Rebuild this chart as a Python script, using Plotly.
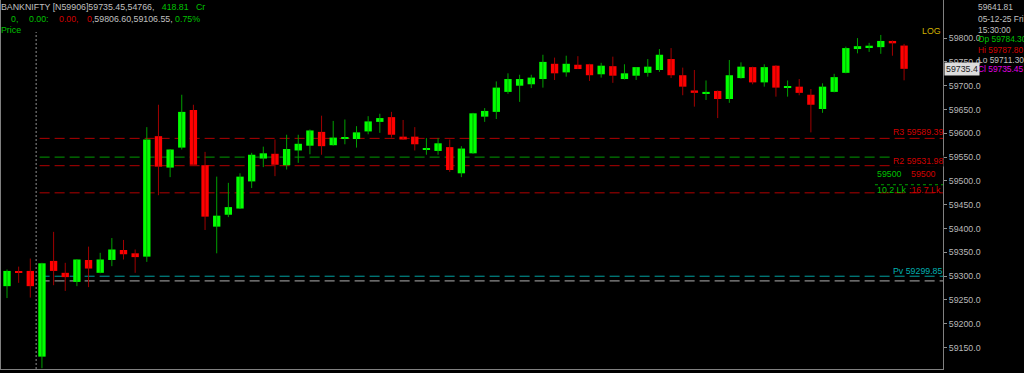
import plotly.graph_objects as go

# ---------------- data (5-min candles, BANKNIFTY) ----------------
idx = list(range(78))
opens = [59279, 59310, 59311, 59131, 59332, 59307, 59288, 59334, 59307, 59334,
         59355, 59348, 59341, 59594, 59528, 59570, 59649, 59533, 59404, 59429,
         59442, 59499, 59547, 59557, 59533, 59564, 59574, 59603, 59575, 59589,
         59588, 59604, 59624, 59634, 59593, 59593, 59565, 59563, 59571, 59516,
         59558, 59635, 59645, 59687, 59700, 59703, 59714, 59746, 59728, 59744,
         59745, 59724, 59741, 59714, 59721, 59727, 59733, 59756, 59722, 59690,
         59683, 59689, 59672, 59716, 59739, 59707, 59742, 59697, 59698, 59681,
         59651, 59687, 59727, 59777, 59780, 59781, 59794, 59784.30]
highs = [59314, 59320, 59337, 59328, 59393, 59328, 59336, 59362, 59349, 59380,
         59376, 59356, 59613, 59660, 59567, 59681, 59660, 59561, 59509, 59496,
         59516, 59559, 59572, 59587, 59597, 59597, 59608, 59637, 59626, 59629,
         59615, 59636, 59641, 59645, 59628, 59613, 59590, 59590, 59587, 59573,
         59643, 59653, 59709, 59726, 59723, 59723, 59765, 59759, 59763, 59762,
         59746, 59748, 59761, 59745, 59739, 59756, 59777, 59779, 59738, 59733,
         59711, 59690, 59754, 59749, 59740, 59745, 59743, 59711, 59714, 59693,
         59705, 59725, 59782, 59800, 59790, 59806.60, 59795, 59787.80]
lows = [59254, 59286, 59255, 59106.55, 59281, 59269, 59279, 59277, 59306, 59321,
        59335, 59307, 59330, 59470, 59508, 59566, 59533, 59397, 59348, 59424,
        59441, 59485, 59529, 59510, 59524, 59538, 59556, 59555, 59574, 59577,
        59570, 59598, 59601, 59591, 59586, 59564, 59555, 59555, 59519, 59508,
        59557, 59624, 59630, 59683, 59666, 59695, 59696, 59712, 59719, 59735,
        59710, 59717, 59706, 59713, 59712, 59719, 59729, 59716, 59680, 59656,
        59670, 59632, 59664, 59715, 59703, 59698, 59677, 59677, 59680, 59602,
        59643, 59686, 59726, 59768, 59771, 59767, 59763, 59711.30]
closes = [59311, 59308, 59279, 59327, 59311, 59298, 59335, 59316, 59335, 59356,
          59346, 59340, 59587, 59530, 59566, 59645, 59534, 59425, 59427, 59445,
          59509, 59555, 59558, 59534, 59567, 59578, 59606, 59573, 59591, 59591,
          59602, 59625, 59632, 59597, 59587, 59577, 59569, 59579, 59523, 59568,
          59642, 59647, 59696, 59714, 59714, 59717, 59750, 59726, 59746, 59735,
          59722, 59742, 59721, 59726, 59739, 59740, 59765, 59722, 59698, 59685,
          59687, 59672, 59722, 59740, 59707, 59739, 59696, 59699, 59685, 59660,
          59698, 59718, 59779, 59783, 59784, 59794, 59789, 59735.45]

# reference levels
r3_level = 59589.39
r2_level = 59531.98
green_level = 59550
red_low_level = 59475
pv_level = 59299.85
grey_level = 59290
oi_level = 59492
last_close = 59735.45

ytick_vals = [59150, 59200, 59250, 59300, 59350, 59400, 59450, 59500,
              59550, 59600, 59650, 59700, 59750, 59800]
ytick_text = [f"{v:.1f}" for v in ytick_vals]

# ---------------- styling ----------------
FW, FH = 1024, 373
ML, MR, MT, MB = 1, 81, 0, 4
PW, PH = FW - ML - MR, FH - MT - MB
FONT = "Liberation Sans"
FS = 8.8
FS_PANEL = 8.4
GREEN_BODY, RED_BODY = "#00ff00", "#ff0000"
GREEN_WICK, RED_WICK = "#00a000", "#a00000"
GREY_TXT = "#c0c0c0"
GREEN_TXT, RED_TXT, MAG_TXT = "#00c000", "#d00000", "#e000e0"
NB = "\u00a0"

def P(px, py):
    return (px - ML) / PW, 1 - (py - MT) / PH

up = [i for i in idx if closes[i] >= opens[i]]
dn = [i for i in idx if closes[i] < opens[i]]

def wick_xy(sel):
    xs, ys = [], []
    for i in sel:
        xs += [i, i, None]
        ys += [lows[i], highs[i], None]
    return xs, ys

fig = go.Figure()
for sel, col in ((up, GREEN_WICK), (dn, RED_WICK)):
    xs, ys = wick_xy(sel)
    fig.add_trace(go.Scatter(x=xs, y=ys, mode="lines", line=dict(color=col, width=1),
                             hoverinfo="skip", showlegend=False))
for sel, col in ((up, GREEN_BODY), (dn, RED_BODY)):
    fig.add_trace(go.Bar(
        x=sel,
        base=[min(opens[i], closes[i]) for i in sel],
        y=[max(abs(closes[i] - opens[i]), 2.2) for i in sel],
        width=0.63, marker=dict(color=col, line=dict(width=0)),
        showlegend=False, hoverinfo="skip"))

XR = [-0.515, 80.34]
shapes = []
def hline(y, color, x0=2.8, dash="10px,5px"):
    shapes.append(dict(type="line", xref="x", yref="y", x0=x0, x1=XR[1], y0=y, y1=y,
                       line=dict(color=color, width=1, dash=dash), layer="below"))
hline(r3_level, "#b00000")
hline(green_level, "#009a00")
hline(r2_level, "#b00000")
hline(red_low_level, "#b00000")
hline(pv_level, "#00a0a0")
hline(grey_level, "#b0b0b0")
hline(oi_level, "#00a000", x0=74.5, dash="dot")
# day separator
shapes.append(dict(type="line", xref="x", yref="paper", x0=2.5, x1=2.5, y0=0, y1=P(0, 32)[1],
                   line=dict(color="#909090", width=1, dash="2px,2px")))

anns = []
def txt(px, py, s, color, anchor="left", bg=None, size=FS, pad=0):
    x, y = P(px, py)
    d = dict(xref="paper", yref="paper", x=x, y=y, text=s, showarrow=False,
             xanchor=anchor, yanchor="middle", font=dict(family=FONT, size=size, color=color),
             borderpad=pad)
    if bg:
        d["bgcolor"] = bg
    anns.append(d)

def span(s, c):
    return f'<span style="color:{c}">{s}</span>'

# header
txt(0, 7.5, "BANKNIFTY [N59906]59735.45,54766," + NB * 3 + span("418.81", GREEN_TXT)
    + NB * 3 + span("Cr", GREEN_TXT), GREY_TXT)
txt(10, 18.5, "0,", GREEN_TXT)
txt(28, 18.5, "0.00:", GREEN_TXT)
txt(58, 18.5, "0.00,", RED_TXT)
txt(86, 18.5, span("0", RED_TXT) + ",59806.60,59106.55, " + span("0.75%", GREEN_TXT), GREY_TXT)
txt(0, 29.5, "Price", GREEN_TXT)

# right info panel
txt(977, 7.5, "59641.81", GREY_TXT, size=FS_PANEL)
txt(977, 18.5, "05-12-25 Fri", GREY_TXT, size=FS_PANEL)
txt(977, 29.5, "15:30:00", GREY_TXT, size=FS_PANEL)
txt(977, 39.5, "Op 59784.30", GREEN_TXT, size=FS_PANEL)
txt(977, 49.5, "Hi 59787.80", RED_TXT, size=FS_PANEL)
txt(977, 59.5, "Lo 59711.30", GREY_TXT, size=FS_PANEL)
txt(977, 69.5, "Cl 59735.45", MAG_TXT, size=FS_PANEL)
txt(944, 69, "59735.4", "#202020", bg="#dcdcdc", pad=1)

# level labels
txt(942, 31, "LOG", "#d0b000", anchor="right")
txt(944, 132, f"R3 {r3_level:.2f}", RED_TXT, anchor="right")
txt(944, 160.5, f"R2 {r2_level:.2f}", RED_TXT, anchor="right", bg="#000000")
txt(876, 174, "59500", GREEN_TXT)
txt(910, 174, "59500", RED_TXT)
txt(876, 190, "10.2 Lk", GREEN_TXT)
txt(908, 190, ":16.7 Lk", RED_TXT)
txt(944, 270.5, f"Pv {pv_level:.2f}", "#00b0b0", anchor="right")

fig.update_layout(
    width=FW, height=FH, margin=dict(l=ML, r=MR, t=MT, b=MB),
    paper_bgcolor="#000000", plot_bgcolor="#000000",
    barmode="overlay", showlegend=False,
    shapes=shapes, annotations=anns,
    xaxis=dict(range=XR, showgrid=False, zeroline=False, showticklabels=False,
               ticks="", showline=True, linecolor="#808080", linewidth=1, mirror=False),
    yaxis=dict(range=[59105, 59880], side="right", showgrid=False, zeroline=False,
               tickvals=ytick_vals, ticktext=ytick_text, ticks="outside", ticklen=3,
               tickcolor="#909090", tickfont=dict(family=FONT, size=FS, color="#b8b8b8"),
               showline=True, linecolor="#808080", linewidth=1, mirror=True),
)

fig.write_html("out.html")
